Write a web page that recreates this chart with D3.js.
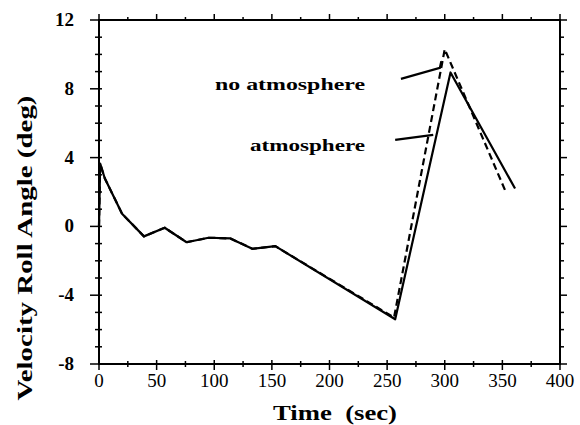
<!DOCTYPE html>
<html lang="en"><head>
<meta charset="UTF-8">
<title>Velocity Roll Angle</title>
<script src="https://cdn.jsdelivr.net/npm/d3@7"></script>
<style>
body { margin: 0; background: #fff; }
text { font-family: "Liberation Serif", "Times New Roman", serif; fill: #000; }
</style>
</head>
<body>
<script>

var width = 580;
var height = 425;

// time (sec) and roll angle (deg)
var atmosTime  = [0, 1, 5, 20, 39, 57, 76, 95, 114, 133, 153, 257, 305, 361];
var atmosAngle = [0, 3.65, 2.8, 0.74, -0.58, -0.08, -0.92, -0.66, -0.7, -1.3, -1.15, -5.4, 8.95, 2.2];

var noAtmosTime  = [0, 1, 5, 20, 39, 57, 76, 95, 114, 133, 153, 256, 300, 353];
var noAtmosAngle = [0, 3.65, 2.8, 0.74, -0.58, -0.08, -0.92, -0.66, -0.7, -1.3, -1.15, -5.3, 10.3, 2.0];

var xTicks = [0, 50, 100, 150, 200, 250, 300, 350, 400];
var yTicks = [-8, -4, 0, 4, 8, 12];

var x = d3.scaleLinear().domain([0, 400]).range([99, 560]);
var y = d3.scaleLinear().domain([-8, 12]).range([364, 20]);

var svg = d3.select("body").append("svg")
  .attr("width", width)
  .attr("height", height);

// frame
svg.append("rect")
  .attr("x", x(0)).attr("y", y(12))
  .attr("width", x(400) - x(0)).attr("height", y(-8) - y(12))
  .attr("fill", "none").attr("stroke", "#000").attr("stroke-width", 2);

var xMinor = d3.range(0, 401, 25);
var yMinor = d3.range(-8, 13, 1);

// bottom ticks
svg.selectAll(".xb").data(xMinor).enter().append("line")
  .attr("x1", function(d){ return x(d); }).attr("x2", function(d){ return x(d); })
  .attr("y1", function(d){ return y(-8) - (d % 50 == 0 ? 4 : 3); })
  .attr("y2", function(d){ return y(-8) + (d % 50 == 0 ? 6 : 3); })
  .attr("stroke", "#000").attr("stroke-width", 1.5);

// top ticks
svg.selectAll(".xt").data(xMinor).enter().append("line")
  .attr("x1", function(d){ return x(d); }).attr("x2", function(d){ return x(d); })
  .attr("y1", y(12))
  .attr("y2", function(d){ return y(12) - (d % 50 == 0 ? 6 : 3); })
  .attr("stroke", "#000").attr("stroke-width", 1.5);

// left ticks
svg.selectAll(".yl").data(yMinor).enter().append("line")
  .attr("y1", function(d){ return y(d); }).attr("y2", function(d){ return y(d); })
  .attr("x1", function(d){ return x(0) - (d % 4 == 0 ? 9 : 4); })
  .attr("x2", function(d){ return x(0) + 3; })
  .attr("stroke", "#000").attr("stroke-width", 1.5);

// right ticks
svg.selectAll(".yr").data(yMinor).enter().append("line")
  .attr("y1", function(d){ return y(d); }).attr("y2", function(d){ return y(d); })
  .attr("x1", x(400))
  .attr("x2", function(d){ return x(400) + (d % 4 == 0 ? 7 : 4); })
  .attr("stroke", "#000").attr("stroke-width", 1.5);

// tick labels
svg.selectAll(".xl").data(xTicks).enter().append("text")
  .attr("x", function(d){ return x(d); })
  .attr("y", 387)
  .attr("text-anchor", "middle")
  .attr("font-size", 19)
  .text(function(d){ return d; });

svg.selectAll(".ylab").data(yTicks).enter().append("text")
  .attr("x", x(0) - 25)
  .attr("y", function(d){ return y(d) + 6; })
  .attr("text-anchor", "end")
  .attr("font-size", 19)
  .attr("font-weight", "bold")
  .text(function(d){ return d; });

// axis titles
svg.append("text")
  .attr("x", 335).attr("y", 420)
  .attr("text-anchor", "middle")
  .attr("font-size", 22).attr("font-weight", "bold")
  .attr("xml:space", "preserve")
  .attr("textLength", 124).attr("lengthAdjust", "spacingAndGlyphs")
  .text("Time  (sec)");

svg.append("text")
  .attr("transform", "translate(32,248) rotate(-90)")
  .attr("text-anchor", "middle")
  .attr("font-size", 22).attr("font-weight", "bold")
  .attr("textLength", 305).attr("lengthAdjust", "spacingAndGlyphs")
  .text("Velocity Roll Angle (deg)");

// curves
var line = d3.line()
  .x(function(d){ return x(d[0]); })
  .y(function(d){ return y(d[1]); });

svg.append("path")
  .datum(d3.zip(noAtmosTime, noAtmosAngle))
  .attr("d", line)
  .attr("fill", "none").attr("stroke", "#000")
  .attr("stroke-width", 2.2).attr("stroke-dasharray", "7,4");

svg.append("path")
  .datum(d3.zip(atmosTime, atmosAngle))
  .attr("d", line)
  .attr("fill", "none").attr("stroke", "#000")
  .attr("stroke-width", 2.2).attr("stroke-linejoin", "round");

// annotations
svg.append("text")
  .attr("x", 215).attr("y", 90)
  .attr("font-size", 16).attr("font-weight", "bold")
  .attr("textLength", 150).attr("lengthAdjust", "spacingAndGlyphs")
  .text("no atmosphere");

svg.append("text")
  .attr("x", 250).attr("y", 151)
  .attr("font-size", 16).attr("font-weight", "bold")
  .attr("textLength", 115).attr("lengthAdjust", "spacingAndGlyphs")
  .text("atmosphere");

var leader = d3.line()
  .x(function(d){ return x(d[0]); })
  .y(function(d){ return y(d[1]); });

svg.append("path")
  .datum([[262, 8.58], [295.8, 9.22], [297, 9.6]])
  .attr("d", leader)
  .attr("fill", "none").attr("stroke", "#000").attr("stroke-width", 2.2);

svg.append("path")
  .datum([[257, 5.03], [290, 5.32]])
  .attr("d", leader)
  .attr("fill", "none").attr("stroke", "#000").attr("stroke-width", 2.2);

</script>
</body></html>
